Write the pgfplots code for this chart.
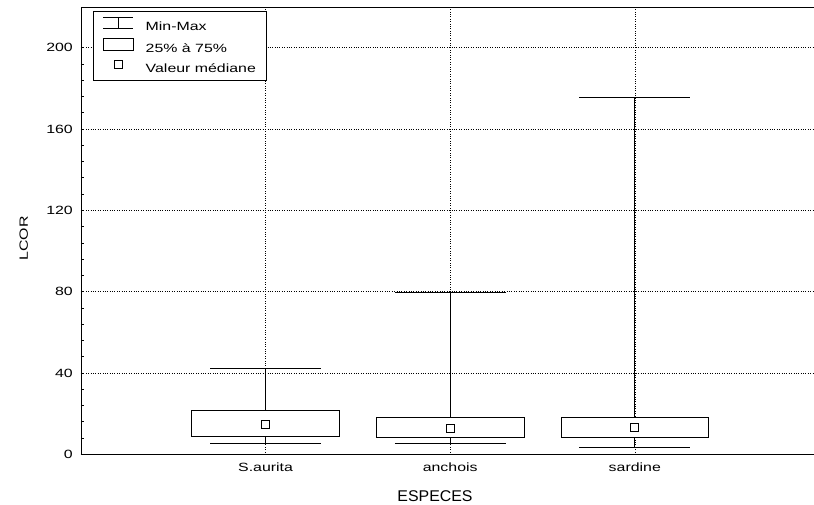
\documentclass[border=0pt]{standalone}
\usepackage{fontspec}
\setmainfont{Liberation Sans}[FakeStretch=1.33]
\usepackage{pgfplots}
\pgfplotsset{compat=1.18}
\usepgfplotslibrary{statistics}

\begin{document}
\fontsize{12}{14}\selectfont
\begin{tikzpicture}
\begin{axis}[
  scale only axis,
  width=738.4bp, height=447.3bp,
  xmin=0, xmax=4, ymin=0, ymax=220,
  xtick={1,2,3}, xticklabels={S.aurita,anchois,sardine},
  ytick={0,40,...,200},
  minor y tick num=4,
  tick align=inside,
  major tick length=3bp, minor tick length=3bp,
  xtick style={draw=none},
  ytick pos=left,
  grid=major,
  major grid style={dotted, black, line width=0.6bp},
  axis line style={line width=0.8bp, black},
  tick style={black, line width=0.6bp},
  /pgf/number format/assume math mode=true,
  tick label style={font=\fontsize{12}{14}\selectfont},
  yticklabel style={xshift=-4bp},
  xticklabel style={yshift=-4bp},
  xlabel={\scalebox{1}[1.3]{ESPECES}}, ylabel={LCOR},
  every axis x label/.style={at={(axis description cs:0.4794,-0.0818)}, anchor=north, inner sep=0pt, font=\fontsize{12}{14}\selectfont},
  every axis y label/.style={at={(axis description cs:-0.0776,0.483)}, anchor=center, rotate=90, inner sep=0pt, font=\fontsize{12}{14}\selectfont},
  legend style={at={(axis description cs:0.016,0.992)}, anchor=north west, draw=black, fill=white, line width=0.6bp,
    font=\fontsize{12}{14}\selectfont, row sep=6bp, inner xsep=10bp, inner ysep=6bp,
    nodes={inner sep=0pt},
    /tikz/every odd column/.append style={column sep=12bp}},
  legend cell align=left,
  boxplot/draw direction=y,
  boxplot/box extend=0.8,
  boxplot/whisker extend=0.6,
  boxplot/draw/median/.code={},
]
\addlegendimage{legend image code/.code={\draw[black, line width=0.6bp] (0bp,10bp) -- (30bp,10bp) (15bp,10bp) -- (15bp,-1.4bp) (0bp,-1.4bp) -- (30bp,-1.4bp);}}
\addlegendentry{Min-Max}
\addlegendimage{legend image code/.code={\draw[black, line width=0.6bp] (0bp,-1.4bp) rectangle (30bp,10bp);}}
\addlegendentry{25\% à 75\%}
\addlegendimage{legend image code/.code={\draw[black, line width=0.9bp] (11bp,0.3bp) rectangle (19bp,8.3bp);}}
\addlegendentry{Valeur médiane}

\addplot[forget plot, draw=black, fill=white, line width=0.8bp,
  boxplot prepared={draw position=1, lower whisker=5.3, lower quartile=8.7, median=14.7, upper quartile=21.4, upper whisker=42.1}]
  coordinates {};
\addplot[forget plot, draw=black, fill=white, line width=0.8bp,
  boxplot prepared={draw position=2, lower whisker=5.4, lower quartile=8.2, median=12.8, upper quartile=18.0, upper whisker=79.8}]
  coordinates {};
\addplot[forget plot, draw=black, fill=white, line width=0.8bp,
  boxplot prepared={draw position=3, lower whisker=3.4, lower quartile=8.3, median=13.3, upper quartile=18.1, upper whisker=175.4}]
  coordinates {};
\addplot[forget plot, only marks, mark=square*, mark size=4bp, mark options={draw=black, fill=white, line width=0.9bp}]
  coordinates {(1,14.7) (2,12.8) (3,13.3)};
\end{axis}
\pgfresetboundingbox
\path[use as bounding box] ([xshift=-81bp,yshift=-50.7bp]current axis.south west) rectangle ([xshift=733bp,yshift=7bp]current axis.north west);
\end{tikzpicture}
\end{document}
